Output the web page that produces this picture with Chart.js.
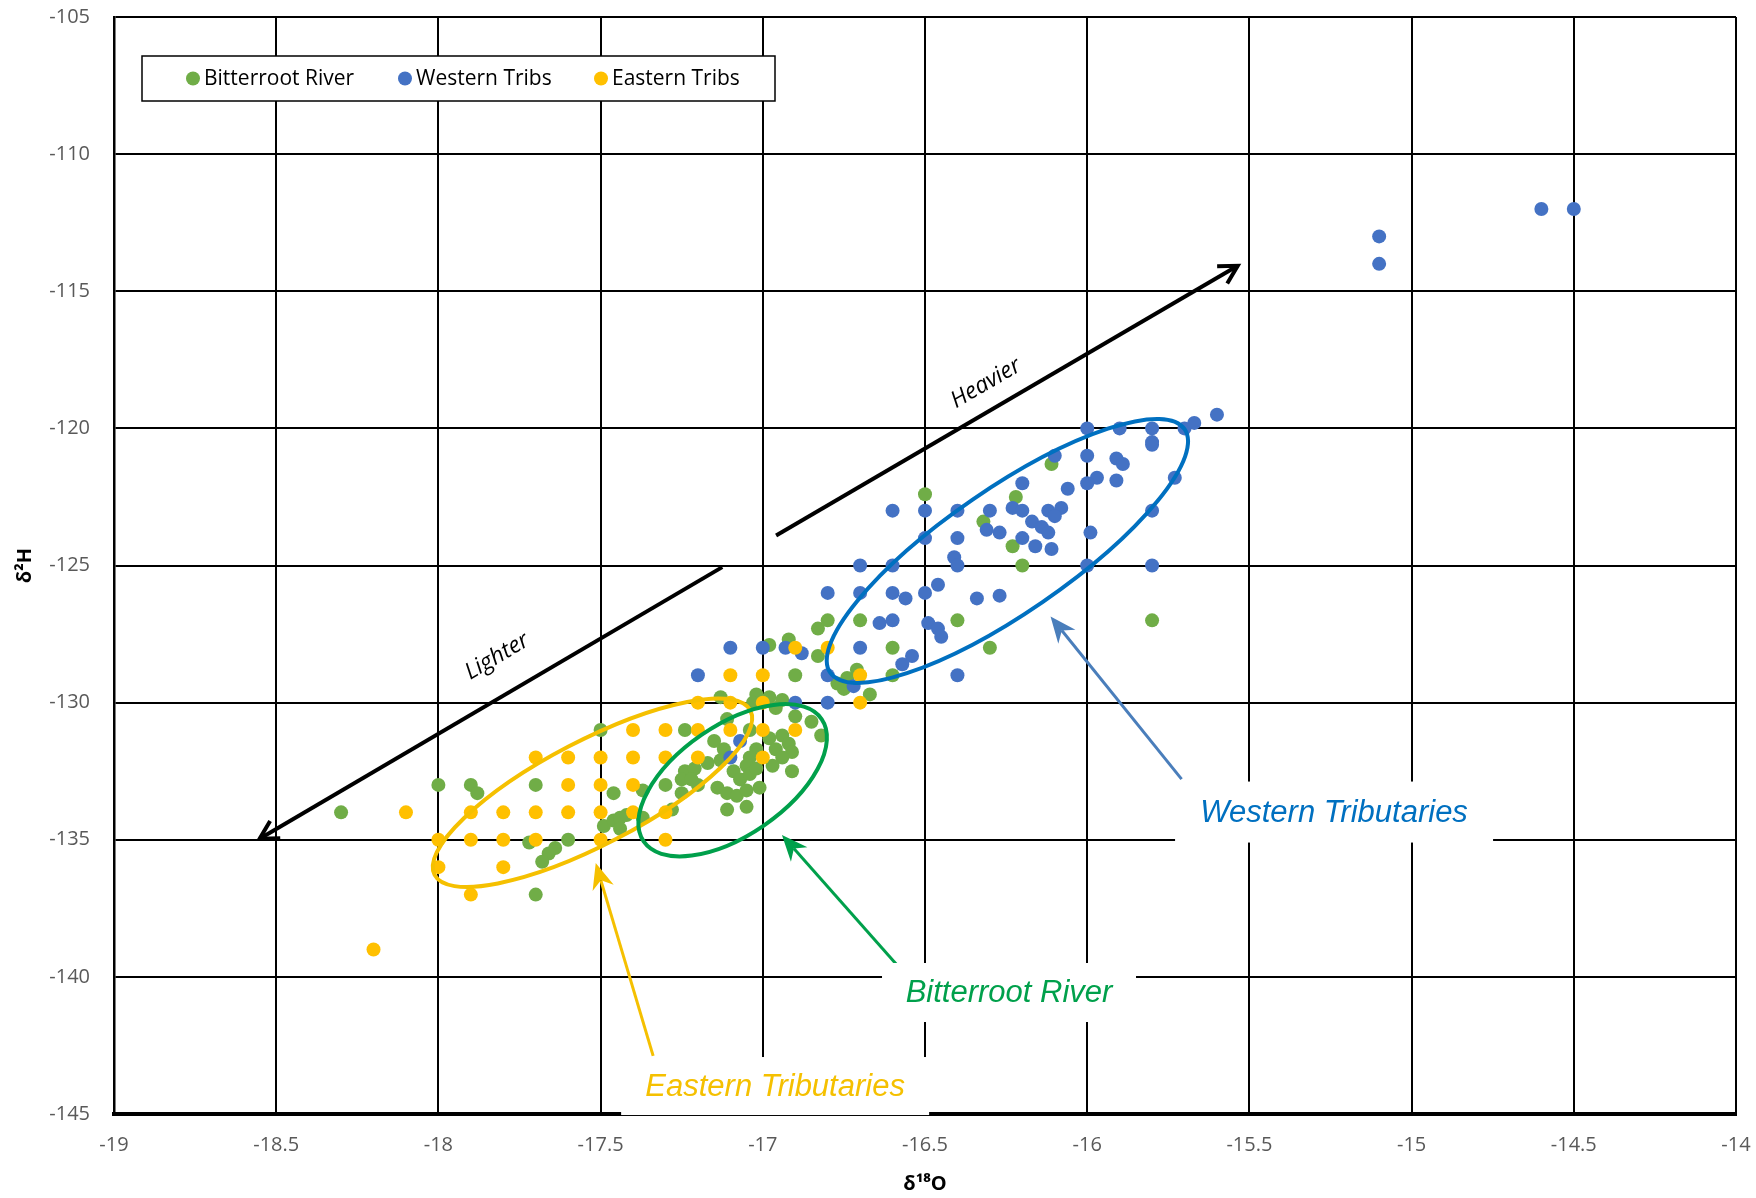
<!DOCTYPE html>
<html><head><meta charset="utf-8">
<script src="https://cdn.jsdelivr.net/npm/chart.js@4.4.1/dist/chart.umd.min.js"></script>
<style>html,body{margin:0;padding:0;background:#fff;}canvas{display:block;}</style>
</head><body>
<canvas id="c" width="1756" height="1198"></canvas>
<script>
// ---------- data ----------
const seriesNames = ['Bitterroot River', 'Western Tribs', 'Eastern Tribs'];
const seriesColors = ['#70AD47', '#4472C4', '#FFC000'];
const xTicks = [-19, -18.5, -18, -17.5, -17, -16.5, -16, -15.5, -15, -14.5, -14];
const yTicks = [-145, -140, -135, -130, -125, -120, -115, -110, -105];

// Bitterroot River (δ18O, δ2H)
const brX = [-18.3,-18.0,-17.9,-17.88,-17.7,-17.7,-17.6,-17.72,-17.64,-17.66,-17.68,-17.5,
  -17.46,-17.37,-17.3,-17.24,-17.25,-17.25,-17.28,-17.37,-17.49,-17.46,-17.44,-17.42,-17.44,-17.24,
  -17.13,-17.02,-16.98,-16.94,-16.9,-16.85,-16.82,-16.96,-17.11,-17.15,-17.12,-17.04,-17.02,-16.98,
  -16.94,-16.96,-16.92,-16.91,-16.94,-16.97,-17.04,-17.05,-17.09,-17.07,-17.04,-17.02,-16.91,-17.13,
  -17.17,-17.21,-17.2,-17.22,-17.14,-17.11,-17.08,-17.05,-17.01,-17.11,-17.05,
  -16.83,-16.8,-16.7,-16.6,-16.98,-16.92,-16.83,-16.9,-16.6,-16.77,-16.74,-16.75,-16.71,-16.67,
  -16.5,-16.11,-16.22,-16.32,-16.23,-16.2,-16.4,-16.3,-15.8,-17.03];
const brY = [-134,-133,-133,-133.3,-133,-137,-135,-135.1,-135.3,-135.5,-135.8,-131,
  -133.3,-133.2,-133.0,-132.5,-132.8,-133.3,-133.9,-134.2,-134.5,-134.3,-134.2,-134.1,-134.6,-131.0,
  -129.8,-129.7,-129.8,-129.9,-130.5,-130.7,-131.2,-130.2,-130.6,-131.4,-131.7,-131.0,-131.7,-131.3,
  -131.2,-131.7,-131.5,-131.8,-132.0,-132.3,-132.0,-132.3,-132.5,-132.8,-132.6,-132.4,-132.5,-132.1,
  -132.2,-132.4,-133.0,-132.8,-133.1,-133.3,-133.4,-133.2,-133.1,-133.9,-133.8,
  -127.3,-127.0,-127.0,-128.0,-127.9,-127.7,-128.3,-129.0,-129.0,-129.3,-129.1,-129.5,-128.8,-129.7,
  -122.4,-121.3,-122.5,-123.4,-124.3,-125.0,-127.0,-128.0,-127.0,-130.0];

// Western Tribs
const wtX = [-17.1,-17.0,-16.93,-16.88,-17.2,-16.8,-16.72,-16.9,-16.8,-17.07,-17.1,
  -16.8,-16.7,-16.6,-16.56,-16.5,-16.46,-16.34,-16.27,
  -16.7,-16.6,-16.41,-16.4,-16.0,-15.8,
  -16.64,-16.6,-16.49,-16.46,-16.45,
  -16.7,-16.54,-16.57,-16.4,
  -16.6,-16.5,-16.4,-16.5,-16.4,
  -16.3,-16.23,-16.2,-16.12,-16.08,-16.1,-16.17,-16.14,-16.12,-16.31,-16.27,-16.2,-16.16,-16.11,-15.99,-15.8,
  -16.2,-16.06,-16.1,-16.0,-15.91,-15.89,-15.97,-16.0,-15.91,-15.73,
  -16.0,-15.9,-15.8,-15.8,-15.8,-15.7,-15.67,-15.6,
  -15.1,-15.1,-14.6,-14.5];
const wtY = [-128,-128,-128,-128.2,-129,-129,-129.4,-130,-130,-131.4,-132.0,
  -126,-126,-126,-126.2,-126,-125.7,-126.2,-126.1,
  -125,-125,-124.7,-125,-125,-125,
  -127.1,-127.0,-127.1,-127.3,-127.6,
  -128,-128.3,-128.6,-129,
  -123,-123,-123,-124,-124,
  -123.0,-122.9,-123.0,-123.0,-122.9,-123.2,-123.4,-123.6,-123.8,-123.7,-123.8,-124.0,-124.3,-124.4,-123.8,-123.0,
  -122.0,-122.2,-121.0,-121.0,-121.1,-121.3,-121.8,-122.0,-121.9,-121.8,
  -120,-120,-120,-120.5,-120.6,-120,-119.8,-119.5,
  -113,-114,-112,-112];

// Eastern Tribs
const etX = [-16.9,-16.8,
  -17.1,-17.0,-16.7,
  -17.2,-17.1,-17.0,-16.7,
  -17.4,-17.3,-17.2,-17.1,-17.0,-16.9,
  -17.7,-17.6,-17.5,-17.4,-17.3,-17.2,-17.0,
  -17.6,-17.5,-17.4,
  -18.1,-17.9,-17.8,-17.7,-17.6,-17.5,-17.4,-17.3,
  -18.0,-17.9,-17.8,-17.7,-17.5,-17.3,
  -18.0,-17.8,
  -17.9,
  -18.2];
const etY = [-128,-128,
  -129,-129,-129,
  -130,-130,-130,-130,
  -131,-131,-131,-131,-131,-131,
  -132,-132,-132,-132,-132,-132,-132,
  -133,-133,-133,
  -134,-134,-134,-134,-134,-134,-134,-134,
  -135,-135,-135,-135,-135,-135,
  -136,-136,
  -137,
  -139];

function pts(xs, ys) { return xs.map((x, i) => ({ x: x, y: ys[i] })); }

// ---------- annotation shapes (positions in data units, sizes in px) ----------
const ellipses = [
  { c: [-17.525, -133.285], a: 178, b: 52, deg: 27.5, color: '#F5C000' },
  { c: [-17.093, -132.83], a: 108, b: 55, deg: 34.5, color: '#00A04B' },
  { c: [-16.246, -124.47], a: 215, b: 62, deg: 34.5, color: '#0070C0' }
];
const bigArrows = [
  { from: [-16.959, -123.905], to: [-15.536, -114.07], label: 'Heavier', at: [-16.312, -118.36] },
  { from: [-17.125, -125.06], to: [-18.551, -134.96], label: 'Lighter', at: [-17.819, -128.32] }
];
const callouts = [
  { text: 'Western Tributaries', color: '#0070C0', arrow: '#4A7EBB', box: [-15.239, -133.99], w: 318, h: 61, from: [-15.709, -132.79], to: [-16.113, -126.86] },
  { text: 'Bitterroot River', color: '#00A04B', arrow: '#00A04B', box: [-16.241, -140.57], w: 254, h: 59, from: [-16.589, -139.53], to: [-16.941, -134.83] },
  { text: 'Eastern Tributaries', color: '#F5C000', arrow: '#F5C000', box: [-16.962, -143.98], w: 308, h: 58, from: [-17.338, -142.88], to: [-17.515, -135.85] }
];

function px(chart, p) { return [chart.scales.x.getPixelForValue(p[0]), chart.scales.y.getPixelForValue(p[1])]; }

function stealthArrow(ctx, x1, y1, x2, y2, color, lw) {
  const d = Math.hypot(x2 - x1, y2 - y1), ux = (x2 - x1) / d, uy = (y2 - y1) / d, nx = -uy, ny = ux;
  const len = 26, hw = 11, notch = 8;
  ctx.strokeStyle = color; ctx.fillStyle = color; ctx.lineWidth = lw;
  ctx.beginPath(); ctx.moveTo(x1, y1); ctx.lineTo(x2 - ux * (len - notch), y2 - uy * (len - notch)); ctx.stroke();
  ctx.beginPath();
  ctx.moveTo(x2, y2);
  ctx.lineTo(x2 - ux * len + nx * hw, y2 - uy * len + ny * hw);
  ctx.lineTo(x2 - ux * (len - notch), y2 - uy * (len - notch));
  ctx.lineTo(x2 - ux * len - nx * hw, y2 - uy * len - ny * hw);
  ctx.closePath(); ctx.fill();
}
function openArrow(ctx, x1, y1, x2, y2) {
  const d = Math.hypot(x2 - x1, y2 - y1), ux = (x2 - x1) / d, uy = (y2 - y1) / d, nx = -uy, ny = ux;
  const len = 18, hw = 10;
  ctx.strokeStyle = '#000'; ctx.lineWidth = 4; ctx.lineCap = 'butt'; ctx.lineJoin = 'miter';
  ctx.beginPath(); ctx.moveTo(x1, y1); ctx.lineTo(x2, y2); ctx.stroke();
  ctx.beginPath();
  ctx.moveTo(x2 - ux * len + nx * hw, y2 - uy * len + ny * hw);
  ctx.lineTo(x2, y2);
  ctx.lineTo(x2 - ux * len - nx * hw, y2 - uy * len - ny * hw);
  ctx.stroke();
}

const overlay = {
  id: 'overlay',
  afterDraw(chart) {
    const ctx = chart.ctx, area = chart.chartArea;
    ctx.save();
    ellipses.forEach(e => {
      const [cx, cy] = px(chart, e.c);
      ctx.beginPath();
      ctx.ellipse(cx, cy, e.a, e.b, -e.deg * Math.PI / 180, 0, Math.PI * 2);
      ctx.strokeStyle = e.color; ctx.lineWidth = 4; ctx.stroke();
    });
    bigArrows.forEach(a => {
      const [x1, y1] = px(chart, a.from), [x2, y2] = px(chart, a.to);
      openArrow(ctx, x1, y1, x2, y2);
      let ang = Math.atan2(y2 - y1, x2 - x1);
      if (ang > Math.PI / 2) ang -= Math.PI; if (ang < -Math.PI / 2) ang += Math.PI;
      const [tx, ty] = px(chart, a.at);
      ctx.save(); ctx.translate(tx, ty); ctx.rotate(ang);
      ctx.font = "italic 23px 'Open Sans'"; ctx.fillStyle = '#000';
      ctx.textAlign = 'center'; ctx.textBaseline = 'middle';
      ctx.fillText(a.label, 0, 0);
      ctx.restore();
    });
    callouts.forEach(c => {
      const [x1, y1] = px(chart, c.from), [x2, y2] = px(chart, c.to);
      stealthArrow(ctx, x1, y1, x2, y2, c.arrow, 3);
    });
    callouts.forEach(c => {
      const [bx, by] = px(chart, c.box);
      ctx.fillStyle = '#fff';
      ctx.fillRect(bx - c.w / 2, by - c.h / 2, c.w, c.h);
      ctx.font = "italic 31px 'Liberation Sans'"; ctx.fillStyle = c.color;
      ctx.textAlign = 'center'; ctx.textBaseline = 'middle';
      ctx.fillText(c.text, bx, by + 1);
    });
    // legend
    const lx = area.left + 28, ly = area.top + 39, lw = 633, lh = 45;
    ctx.fillStyle = '#fff'; ctx.fillRect(lx, ly, lw, lh);
    ctx.strokeStyle = '#000'; ctx.lineWidth = 1.5; ctx.strokeRect(lx, ly, lw, lh);
    const offs = [51, 263, 459];
    ctx.font = "21px 'Open Sans'"; ctx.textAlign = 'left'; ctx.textBaseline = 'middle';
    seriesNames.forEach((n, i) => {
      const dx = lx + offs[i], dy = ly + lh / 2;
      ctx.beginPath(); ctx.arc(dx, dy, 7, 0, Math.PI * 2); ctx.fillStyle = seriesColors[i]; ctx.fill();
      ctx.fillStyle = '#000'; ctx.fillText(n, dx + 11, dy + 1);
    });
    ctx.restore();
  }
};

function noPad(s) { s.paddingTop = 0; s.paddingBottom = 0; s.paddingLeft = 0; s.paddingRight = 0; }
const tickFont = { family: 'Open Sans', size: 20 };
new Chart(document.getElementById('c'), {
  type: 'scatter',
  data: {
    datasets: [
      { label: seriesNames[0], data: pts(brX, brY), backgroundColor: seriesColors[0], order: 2 },
      { label: seriesNames[1], data: pts(wtX, wtY), backgroundColor: seriesColors[1], order: 1 },
      { label: seriesNames[2], data: pts(etX, etY), backgroundColor: seriesColors[2], order: 0 }
    ]
  },
  options: {
    responsive: false, animation: false, devicePixelRatio: 1,
    layout: { padding: { left: 0, right: 20, top: 17, bottom: 0 } },
    elements: { point: { radius: 7, borderWidth: 0, hoverRadius: 7 } },
    plugins: { legend: { display: false }, tooltip: { enabled: false } },
    scales: {
      x: {
        type: 'linear', min: -19, max: -14, position: 'bottom',
        afterBuildTicks: s => { s.ticks = xTicks.map(v => ({ value: v })); },
        ticks: { color: '#595959', font: tickFont, padding: 19, maxRotation: 0, autoSkip: false, callback: v => String(v) },
        grid: { color: '#000', lineWidth: 2, drawTicks: false },
        border: { color: '#000', width: 4 },
        title: { display: true, text: 'δ¹⁸O', color: '#000', font: { family: 'Open Sans', size: 20, weight: 'bold' }, padding: { top: 0, bottom: 2 } },
        afterFit: s => { s.height = 84; noPad(s); }
      },
      y: {
        type: 'linear', min: -145, max: -105,
        afterBuildTicks: s => { s.ticks = yTicks.map(v => ({ value: v })); },
        ticks: { color: '#595959', font: tickFont, padding: 24, callback: v => String(v) },
        grid: { color: '#000', lineWidth: 2, drawTicks: false },
        border: { color: '#000', width: 2.5 },
        title: { display: true, text: 'δ²H', color: '#000', font: { family: 'Open Sans', size: 20, weight: 'bold' }, padding: { top: 13, bottom: 0 } },
        afterFit: s => { s.width = 114; noPad(s); }
      }
    }
  },
  plugins: [overlay]
});
</script>
</body></html>
